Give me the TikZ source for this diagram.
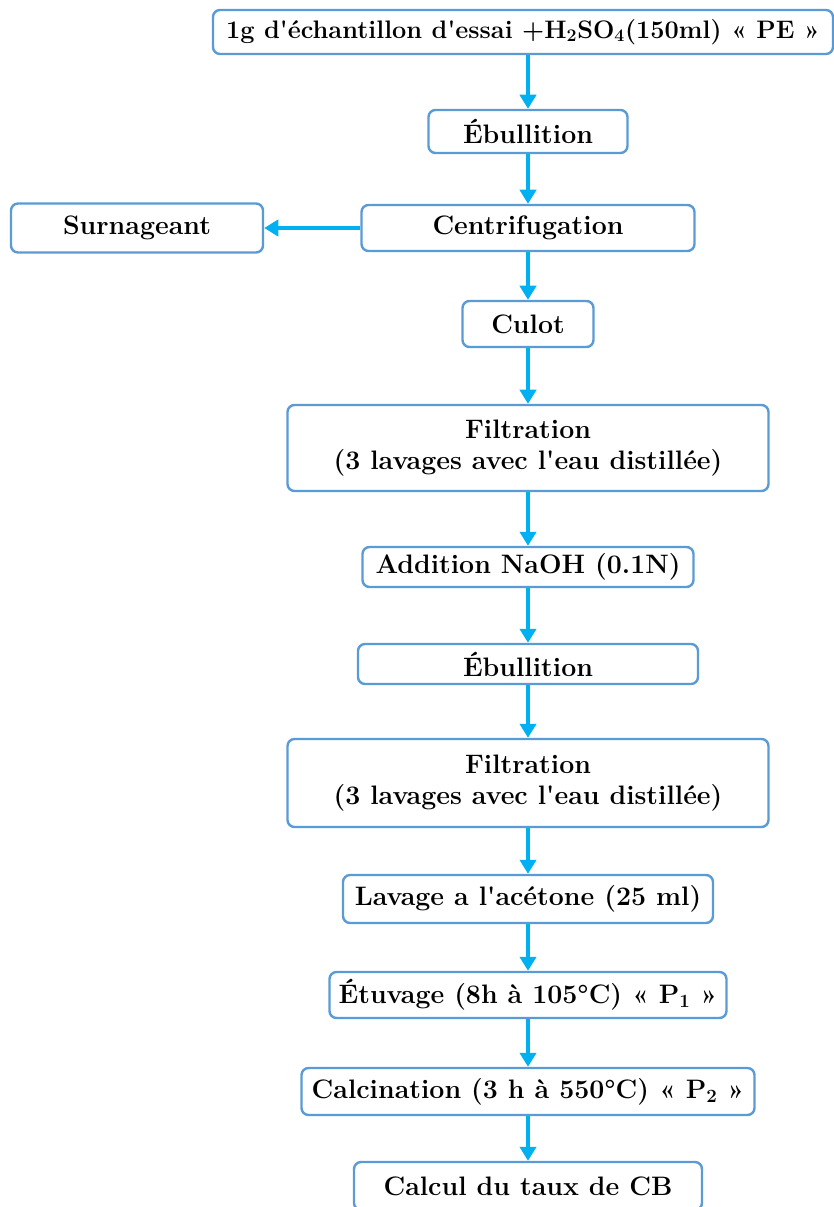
\documentclass[tikz,border=0pt]{standalone}
\usepackage{fontspec}
\usepackage{xcolor}
\usepackage{tikz}
\usetikzlibrary{arrows.meta}

\definecolor{boxblue}{RGB}{91,155,213}
\definecolor{flowcyan}{RGB}{0,176,240}

\begin{document}
\begin{tikzpicture}[node distance=2.4cm,
    box/.style={draw=boxblue, line width=1.7pt, rectangle, rounded corners=5pt, fill=white, align=center, inner sep=2pt, font=\fontsize{19}{22.5}\selectfont\bfseries},
    flow/.style={draw=flowcyan, line width=2.6pt, -{Triangle[length=10pt,width=11.5pt]}}]
    \useasboundingbox (0,0) rectangle (20.85,-30.175);

    % Prise d'essai
    \node[box, minimum width=15.5cm, minimum height=1.1cm, font=\fontsize{18}{21}\selectfont\bfseries] (pe) at (13.075,-0.8) {1g d\textquotesingle échantillon d\textquotesingle essai +H\textsubscript{2}SO\textsubscript{4}(150ml) «~PE~»};

    % Premiere hydrolyse acide
    \node[box, minimum width=4.975cm, minimum height=1.075cm, below of=pe, node distance=2.4875cm, xshift=0.125cm] (ebu1) {Ébullition};
    \node[box, minimum width=8.325cm, minimum height=1.15cm, below of=ebu1, node distance=2.4125cm] (centri) {Centrifugation};
    \node[box, minimum width=6.3cm, minimum height=1.225cm, left of=centri, node distance=9.775cm] (surn) {Surnageant};
    \node[box, minimum width=3.275cm, minimum height=1.15cm, below of=centri, node distance=2.4cm] (culot) {Culot};
    \node[box, minimum width=12.025cm, minimum height=2.15cm, below of=culot, node distance=3.1cm] (filt1) {Filtration\\(3 lavages avec l\textquotesingle eau distillée)};

    % Hydrolyse alcaline
    \node[box, minimum width=8.275cm, minimum height=1cm, below of=filt1, node distance=2.975cm] (naoh) {Addition NaOH (0.1N)};
    \node[box, minimum width=8.5cm, minimum height=1cm, below of=naoh, node distance=2.425cm] (ebu2) {Ébullition};
    \node[box, minimum width=12.025cm, minimum height=2.2cm, below of=ebu2, node distance=2.975cm] (filt2) {Filtration\\(3 lavages avec l\textquotesingle eau distillée)};

    % Sechage et pesees
    \node[box, minimum width=9.25cm, minimum height=1.2cm, below of=filt2, node distance=2.9cm] (lav) {Lavage a l\textquotesingle acétone (25 ml)};
    \node[box, minimum width=9.925cm, minimum height=1.15cm, below of=lav, node distance=2.4cm] (etuv) {Étuvage (8h à 105°C) «~P\textsubscript{1}~»};
    \node[box, minimum width=11.325cm, minimum height=1.175cm, below of=etuv, node distance=2.4125cm] (calc) {Calcination (3 h à 550°C) «~P\textsubscript{2}~»};
    \node[box, minimum width=8.7cm, minimum height=1.2cm, below of=calc, node distance=2.3625cm] (calcul) {Calcul du taux de CB};

    % Fleches
    \draw[flow] (pe.south -| ebu1) -- (ebu1.north);
    \draw[flow] (ebu1) -- (centri);
    \draw[flow] (centri) -- (surn);
    \draw[flow] (centri) -- (culot);
    \draw[flow] (culot) -- (filt1);
    \draw[flow] (filt1) -- (naoh);
    \draw[flow] (naoh) -- (ebu2);
    \draw[flow] (ebu2) -- (filt2);
    \draw[flow] (filt2) -- (lav);
    \draw[flow] (lav) -- (etuv);
    \draw[flow] (etuv) -- (calc);
    \draw[flow] (calc) -- (calcul);
\end{tikzpicture}
\end{document}
